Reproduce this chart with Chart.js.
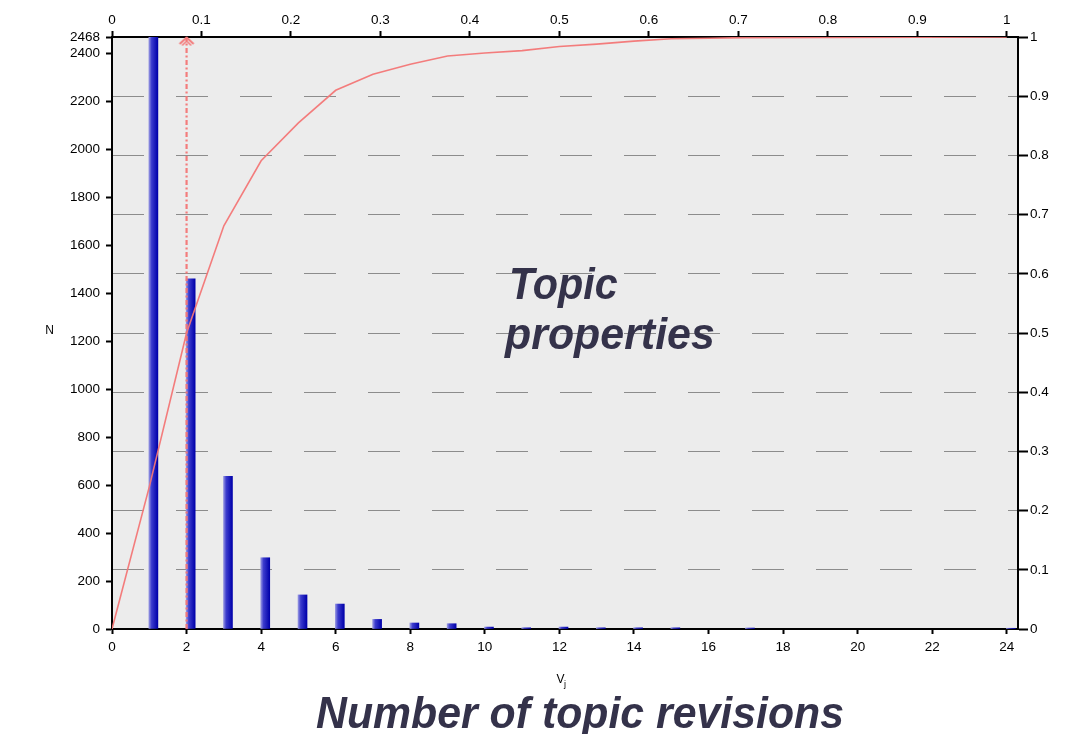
<!DOCTYPE html>
<html><head><meta charset="utf-8">
<script src="https://cdn.jsdelivr.net/npm/chart.js@4"></script>
<style>html,body{margin:0;padding:0;background:#fff}#wrap{width:1076px;height:734px;position:relative}</style>
</head><body><div id="wrap"><canvas id="c" width="1076" height="734"></canvas></div>
<script>
// ---- data ----
const revisions = [1, 2, 3, 4, 5, 6, 7, 8, 9, 10, 11, 12, 13, 14, 15, 17, 24];
const topicCounts = [2468, 1460, 636, 297, 142, 104, 40, 25, 22, 8, 5, 8, 5, 5, 5, 4, 3];
const cdfRevisions = [0, 1, 2, 3, 4, 5, 6, 7, 8, 9, 10, 11, 12, 13, 14, 15, 16, 17, 24];
const cdfShare = [0, 0.24, 0.5, 0.681, 0.791, 0.855, 0.91, 0.937, 0.954, 0.968, 0.973, 0.977, 0.984, 0.988, 0.993, 0.997, 0.998, 0.999, 1];
const markerRevision = [2];
const bottomTicks = [0, 2, 4, 6, 8, 10, 12, 14, 16, 18, 20, 22, 24];
const topTicks = [0, 0.1, 0.2, 0.3, 0.4, 0.5, 0.6, 0.7, 0.8, 0.9, 1];
const leftTicks = [0, 200, 400, 600, 800, 1000, 1200, 1400, 1600, 1800, 2000, 2200, 2400, 2468];
const rightTicks = [0, 0.1, 0.2, 0.3, 0.4, 0.5, 0.6, 0.7, 0.8, 0.9, 1];
const countMax = 2468;
const revisionMax = 24.3;
const axisTitleX = 'V';
const axisTitleXSub = 'j';
const axisTitleY = 'N';
const insideLabel = ['Topic', 'properties'];
const bottomLabel = 'Number of topic revisions';

// ---- styles ----
const FONT = '"Liberation Sans", Arial, Helvetica, sans-serif';
const RED = 'rgba(243,118,118,0.95)';
const TEXT_DARK = '#34324a';

const arrowHead = document.createElement('canvas');
arrowHead.width = 20; arrowHead.height = 26;
(function () {
  const ac = arrowHead.getContext('2d');
  ac.strokeStyle = RED; ac.lineWidth = 2; ac.lineJoin = 'miter';
  ac.beginPath(); ac.moveTo(3, 20); ac.lineTo(10, 13.5); ac.lineTo(17, 20); ac.stroke();
  ac.lineWidth = 1.5;
  ac.beginPath(); ac.moveTo(5.5, 21.5); ac.lineTo(10, 17); ac.lineTo(14.5, 21.5); ac.stroke();
})();

const fmt = v => String(Number(v.toFixed(2)));
const setTicks = arr => scale => { scale.ticks = arr.map(v => ({ value: v })); };

const plotBg = {
  id: 'plotBg',
  beforeDraw(chart) {
    const { ctx, chartArea: a } = chart;
    ctx.save(); ctx.fillStyle = '#ececec';
    ctx.fillRect(a.left, a.top, a.right - a.left, a.bottom - a.top);
    ctx.restore();
  }
};

const texts = {
  id: 'texts',
  afterDraw(chart) {
    const { ctx } = chart;
    ctx.save();
    ctx.fillStyle = '#000';
    ctx.textBaseline = 'alphabetic';
    ctx.font = '12px ' + FONT;
    ctx.textAlign = 'center';
    ctx.fillText(axisTitleY, 49.5, 333.5);
    ctx.textAlign = 'left';
    ctx.fillText(axisTitleX, 556.5, 682.5);
    ctx.font = '9px ' + FONT;
    ctx.fillText(axisTitleXSub, 564, 687);
    // inside label
    ctx.fillStyle = TEXT_DARK;
    ctx.font = 'italic bold 44px ' + FONT;
    ctx.save(); ctx.translate(509, 298.5); ctx.scale(0.94, 1); ctx.fillText(insideLabel[0], 0, 0); ctx.restore();
    ctx.save(); ctx.translate(505, 349); ctx.scale(0.975, 1); ctx.fillText(insideLabel[1], 0, 0); ctx.restore();
    // bottom label
    ctx.font = 'italic bold 44px ' + FONT;
    const w = ctx.measureText(bottomLabel).width;
    const sx = 528 / w;
    ctx.save(); ctx.translate(316, 727.5); ctx.scale(sx, 1); ctx.fillText(bottomLabel, 0, 0); ctx.restore();
    ctx.restore();
  }
};

const tickFont = { family: FONT, size: 13.5 };

new Chart(document.getElementById('c'), {
  type: 'bar',
  data: {
    datasets: [
      {
        type: 'line', label: 'cdf', xAxisID: 'x', yAxisID: 'y2', order: 0,
        data: cdfRevisions.map((r, i) => ({ x: r, y: cdfShare[i] })),
        borderColor: RED, borderWidth: 1.6, pointRadius: 0, tension: 0, fill: false
      },
      {
        type: 'line', label: 'marker', xAxisID: 'x', yAxisID: 'y', order: 1, clip: false,
        data: [{ x: markerRevision[0], y: 0 }, { x: markerRevision[0], y: countMax }],
        borderColor: RED, borderWidth: 2.2, borderDash: [5, 2.5, 2, 2.5],
        pointRadius: [0, 10], pointStyle: arrowHead, fill: false
      },
      {
        type: 'bar', label: 'N', xAxisID: 'x', yAxisID: 'y', order: 2,
        data: revisions.map((r, i) => ({ x: r + 0.11, y: topicCounts[i] })),
        barThickness: 9,
        backgroundColor: (c) => {
          const ch = c.chart;
          if (!ch.chartArea || c.type !== 'data' || !c.raw) return 'rgb(30,30,190)';
          const px = ch.scales.x.getPixelForValue(c.raw.x);
          const g = ch.ctx.createLinearGradient(px - 4.5, 0, px + 4.5, 0);
          g.addColorStop(0, 'rgba(150,150,225,1)');
          g.addColorStop(0.3, 'rgb(60,60,205)');
          g.addColorStop(1, 'rgb(0,0,170)');
          return g;
        }
      }
    ]
  },
  options: {
    responsive: false,
    animation: false,
    devicePixelRatio: 1,
    layout: { padding: 0 },
    plugins: { legend: { display: false }, tooltip: { enabled: false }, title: { display: false } },
    scales: {
      x: {
        type: 'linear', position: 'bottom', min: 0, max: revisionMax, offset: false,
        afterBuildTicks: setTicks(bottomTicks),
        afterFit: s => { s.height = 105; },
        grid: { display: true, drawOnChartArea: false, offset: false, tickLength: 5, tickColor: '#000', tickWidth: 2 },
        border: { display: true, color: '#000', width: 2 },
        ticks: { font: tickFont, color: '#000', padding: 5, autoSkip: false, maxRotation: 0, callback: v => fmt(v) }
      },
      x2: {
        type: 'linear', position: 'top', min: 0, max: revisionMax / 24, offset: false,
        afterBuildTicks: setTicks(topTicks),
        afterFit: s => { s.height = 37; },
        grid: { display: true, drawOnChartArea: false, offset: false, tickLength: 6, tickColor: '#000', tickWidth: 2 },
        border: { display: true, color: '#000', width: 2 },
        ticks: { font: tickFont, color: '#000', padding: 3, autoSkip: false, maxRotation: 0, callback: v => fmt(v) }
      },
      y: {
        type: 'linear', position: 'left', min: 0, max: countMax,
        afterBuildTicks: setTicks(leftTicks),
        afterFit: s => { s.width = 112; },
        grid: { display: true, drawOnChartArea: false, tickLength: 6, tickColor: '#000', tickWidth: 2 },
        border: { display: true, color: '#000', width: 2 },
        ticks: { font: tickFont, color: '#000', padding: 6, autoSkip: false, callback: v => fmt(v) }
      },
      y2: {
        type: 'linear', position: 'right', min: 0, max: 1,
        afterBuildTicks: setTicks(rightTicks),
        afterFit: s => { s.width = 58; },
        grid: {
          display: true, drawOnChartArea: true, tickLength: 10, tickColor: '#000', tickWidth: 2, lineWidth: 1,
          color: c => (c.tick && c.tick.value > 0.001 && c.tick.value < 0.999) ? 'rgba(135,135,135,0.95)' : 'rgba(0,0,0,0)'
        },
        border: { display: true, color: '#000', width: 2, dash: [32, 32] },
        ticks: { font: tickFont, color: '#000', padding: 2, autoSkip: false, callback: v => fmt(v) }
      }
    }
  },
  plugins: [plotBg, texts]
});
</script>
</body></html>
